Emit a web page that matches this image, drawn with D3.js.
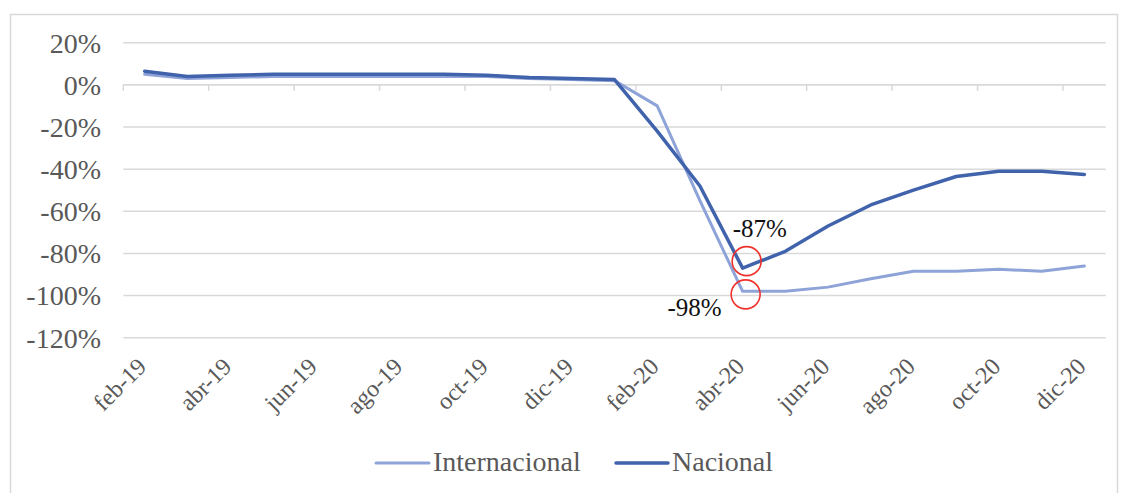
<!DOCTYPE html>
<html>
<head>
<meta charset="utf-8">
<script src="https://cdn.jsdelivr.net/npm/d3@7"></script>
<style>
  html, body { margin: 0; padding: 0; background: #fff; }
  svg { display: block; font-family: "Liberation Serif", "Times New Roman", serif; }
</style>
</head>
<body>
<svg id="chart" width="1122" height="493"></svg>
<script>
const months = ["feb-19","mar-19","abr-19","may-19","jun-19","jul-19","ago-19","sep-19","oct-19","nov-19","dic-19","ene-20",
                "feb-20","mar-20","abr-20","may-20","jun-20","jul-20","ago-20","sep-20","oct-20","nov-20","dic-20"];
const internacional = [5, 3, 3.5, 4, 4, 4, 4, 4, 4, 3, 2.5, 2, -10, -55, -98, -98, -96, -92, -88.5, -88.5, -87.5, -88.5, -86];
const nacional = [6.5, 4, 4.5, 5, 5, 5, 5, 5, 4.5, 3.5, 3, 2.5, -22, -48, -87, -79, -67, -57, -50, -43.5, -41, -41, -42.5];
const yTicks = [20, 0, -20, -40, -60, -80, -100, -120];
const seriesNames = ["Internacional", "Nacional"];
const annotations = [
  { month: "abr-20", value: -87, text: "-87%" },
  { month: "abr-20", value: -98, text: "-98%" }
];

const svg = d3.select("#chart");
const colors = { Internacional: "#8EA3D7", Nacional: "#4163AC" };
const textColor = "#595959";

// Outer frame
svg.append("rect").attr("x", 10.5).attr("y", 14.5).attr("width", 1107).attr("height", 500)
  .attr("fill", "none").attr("stroke", "#d9d9d9").attr("stroke-width", 1.5);

const x = d3.scaleBand().domain(months).range([123.3, 1105.7]).paddingInner(0).paddingOuter(0);
const y = d3.scaleLinear().domain([-120, 20]).range([337.7, 42.7]);
const cx = m => x(m) + x.bandwidth() / 2;

// Gridlines
const grid = svg.append("g");
grid.selectAll("line").data(yTicks).join("line")
  .attr("x1", 123.3).attr("x2", 1105.7)
  .attr("y1", d => y(d)).attr("y2", d => y(d))
  .attr("stroke", "#d9d9d9").attr("stroke-width", 1.5);

// Y axis labels
svg.append("g").selectAll("text").data(yTicks).join("text")
  .attr("x", 101).attr("y", d => y(d)).attr("dy", "0.35em")
  .attr("text-anchor", "end").attr("fill", textColor)
  .attr("font-size", 28).text(d => d + "%");

// X axis (at 0%) with tick marks at category boundaries every 2 categories
const xAxisG = svg.append("g").attr("transform", `translate(0,${y(0)})`);
xAxisG.append("line").attr("x1", 123.3).attr("x2", 1105.7).attr("stroke", "#d9d9d9").attr("stroke-width", 1.5);
xAxisG.selectAll("line.tick").data(months.filter((m, i) => i % 2 === 0)).join("line")
  .attr("class", "tick")
  .attr("x1", d => x(d)).attr("x2", d => x(d)).attr("y1", 0).attr("y2", 6)
  .attr("stroke", "#d9d9d9").attr("stroke-width", 1.5);

// X labels (rotated)
svg.append("g").selectAll("text").data(months.filter((m, i) => i % 2 === 0)).join("text")
  .attr("text-anchor", "end").attr("fill", textColor).attr("font-size", 24)
  .attr("transform", d => `translate(${cx(d) + 3},${368}) rotate(-45)`)
  .text(d => d);

// Lines
const line = d3.line().x((d, i) => cx(months[i])).y(d => y(d));
svg.append("path").datum(internacional).attr("d", line)
  .attr("fill", "none").attr("stroke", colors.Internacional).attr("stroke-width", 3)
  .attr("stroke-linejoin", "round").attr("stroke-linecap", "round");
svg.append("path").datum(nacional).attr("d", line)
  .attr("fill", "none").attr("stroke", colors.Nacional).attr("stroke-width", 3.5)
  .attr("stroke-linejoin", "round").attr("stroke-linecap", "round");

// Annotations
const a0 = annotations[0], a1 = annotations[1];
svg.append("circle").attr("cx", cx(a0.month) + 4).attr("cy", y(a0.value) - 7).attr("r", 14.5)
  .attr("fill", "none").attr("stroke", "#f0312b").attr("stroke-width", 1.6);
svg.append("circle").attr("cx", cx(a1.month) + 3).attr("cy", y(a1.value) + 3).attr("r", 14.5)
  .attr("fill", "none").attr("stroke", "#f0312b").attr("stroke-width", 1.6);
svg.append("text").attr("x", cx(a0.month) - 10).attr("y", y(a0.value) - 31)
  .attr("font-size", 25).attr("fill", "#111").text(a0.text);
svg.append("text").attr("x", cx(a1.month) - 21).attr("y", y(a1.value) + 25)
  .attr("text-anchor", "end").attr("font-size", 25).attr("fill", "#111").text(a1.text);

// Legend
const legendItems = [
  { name: seriesNames[0], x1: 376, x2: 429, tx: 433 },
  { name: seriesNames[1], x1: 616, x2: 668, tx: 672 }
];
const lg = svg.append("g");
lg.selectAll("line").data(legendItems).join("line")
  .attr("x1", d => d.x1).attr("x2", d => d.x2).attr("y1", 463).attr("y2", 463)
  .attr("stroke", d => colors[d.name]).attr("stroke-width", d => d.name === "Nacional" ? 3.5 : 3)
  .attr("stroke-linecap", "round");
lg.selectAll("text").data(legendItems).join("text")
  .attr("x", d => d.tx).attr("y", 471).attr("font-size", 28).attr("fill", textColor)
  .text(d => d.name);
</script>
</body>
</html>
